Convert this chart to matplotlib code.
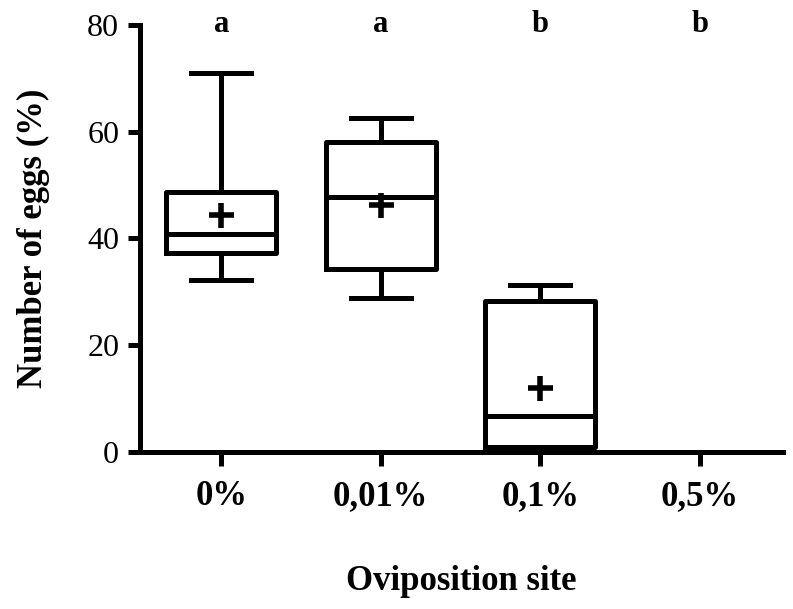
import matplotlib.pyplot as plt

plt.rcParams['font.family'] = ['Liberation Serif', 'DejaVu Serif']

sites = ['0%', '0,01%', '0,1%', '0,5%']
whislo = [32.2, 28.8, 0.0, 0.0]
q1 = [37.3, 34.3, 1.0, 0.0]
med = [40.8, 47.8, 6.8, 0.0]
q3 = [48.7, 58.0, 28.3, 0.0]
whishi = [71.0, 62.5, 31.3, 0.0]
means = [44.4, 46.3, 12.0, 0.0]
letters = ['a', 'a', 'b', 'b']


def main():
    stats = []
    for i in range(len(sites)):
        stats.append(dict(whislo=whislo[i], q1=q1[i], med=med[i], q3=q3[i],
                          whishi=whishi[i], fliers=[], label=sites[i]))

    fig = plt.figure(figsize=(7.93, 6.09), dpi=100)
    ax = fig.add_axes([0.1765, 0.258, 0.8105, 0.701])

    lw = 3.6
    pos = list(range(1, len(sites) + 1))
    ax.bxp(stats, positions=pos, widths=0.69, showfliers=False,
           boxprops=dict(color='black', linewidth=lw),
           medianprops=dict(color='black', linewidth=lw),
           whiskerprops=dict(color='black', linewidth=lw),
           capprops=dict(color='black', linewidth=lw),
           capwidths=0.375, manage_ticks=False)

    # means for the groups that have eggs
    ax.plot(pos[:3], means[:3], linestyle='none', marker='+', color='black',
            markersize=18, markeredgewidth=4)

    for p, t in zip(pos, letters):
        ax.text(p, 80, t, ha='center', va='center', fontsize=22,
                fontweight='bold', clip_on=False)

    ax.set_xlim(0.49, 4.52)
    ax.set_ylim(0, 80)
    ax.set_yticks([0, 20, 40, 60, 80])
    ax.set_xticks(pos)
    ax.set_xticklabels(sites, fontweight='bold')
    ax.tick_params(axis='y', labelsize=23, width=lw, length=9, pad=6)
    ax.tick_params(axis='x', labelsize=25, width=lw, length=10, pad=10)

    for s in ['top', 'right']:
        ax.spines[s].set_visible(False)
    for s in ['left', 'bottom']:
        ax.spines[s].set_linewidth(lw)

    ax.set_ylabel('Number of eggs (%)', fontsize=25, fontweight='bold', labelpad=27)
    ax.set_xlabel('Oviposition site', fontsize=25, fontweight='bold', labelpad=38)

    fig.savefig('out.png', dpi=100)


if __name__ == "__main__":
    main()
